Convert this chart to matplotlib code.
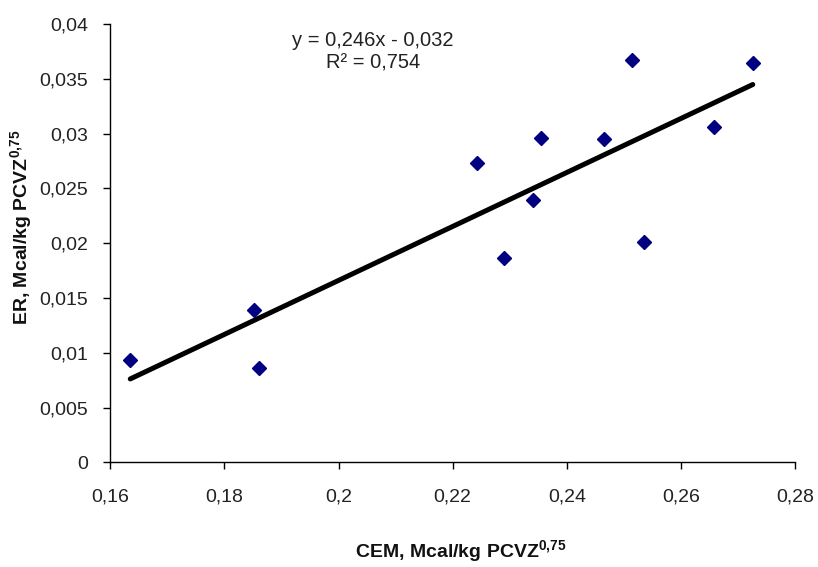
import numpy as np
import matplotlib
matplotlib.use("Agg")
import matplotlib.pyplot as plt

# Data
cem = [0.1635, 0.1851, 0.1861, 0.2243, 0.2355, 0.2340, 0.2290, 0.2465, 0.2515, 0.2535, 0.2658, 0.2726]
er = [0.00933, 0.01390, 0.00863, 0.02734, 0.02962, 0.02393, 0.01861, 0.02950, 0.03671, 0.02013, 0.03062, 0.03641]
x_ticks = [0.16, 0.18, 0.20, 0.22, 0.24, 0.26, 0.28]
x_tick_labels = ["0,16", "0,18", "0,2", "0,22", "0,24", "0,26", "0,28"]
y_ticks = [0, 0.005, 0.01, 0.015, 0.02, 0.025, 0.03, 0.035, 0.04]
y_tick_labels = ["0", "0,005", "0,01", "0,015", "0,02", "0,025", "0,03", "0,035", "0,04"]
equation_text = "y = 0,246x - 0,032"
r2_text = "R² = 0,754"
x_label = r"CEM, Mcal/kg PCVZ$^{\mathbf{0{,}75}}$"
y_label = r"ER, Mcal/kg PCVZ$^{\mathbf{0{,}75}}$"

plt.rcParams["font.family"] = ["Liberation Sans", "DejaVu Sans"]
plt.rcParams["mathtext.fontset"] = "custom"
plt.rcParams["mathtext.bf"] = "Liberation Sans:bold"
plt.rcParams["mathtext.rm"] = "Liberation Sans"

W, H = 818, 567
fig = plt.figure(figsize=(W / 100, H / 100), dpi=100)
ax = fig.add_axes([110.3 / W, 1 - 462.3 / H, (795 - 110.3) / W, (462.3 - 24) / H])

ax.plot(cem, er, linestyle="none", marker="D", markersize=7.5,
        color="#000080", markeredgecolor="#000080", zorder=3)

# trend line (least squares)
coef = np.polyfit(cem, er, 1)
xs = np.array([min(cem), max(cem)])
ax.plot(xs, np.polyval(coef, xs), color="black", linewidth=3.6,
        solid_capstyle="round", zorder=2)

ax.set_xlim(x_ticks[0], x_ticks[-1])
ax.set_ylim(y_ticks[0], y_ticks[-1])
ax.set_xticks(x_ticks)
ax.set_xticklabels(x_tick_labels)
ax.set_yticks(y_ticks)
ax.set_yticklabels(y_tick_labels)

for s in ["top", "right"]:
    ax.spines[s].set_visible(False)
for s in ["left", "bottom"]:
    ax.spines[s].set_color("black")
    ax.spines[s].set_linewidth(1.0)
ax.tick_params(axis="both", direction="out", length=5, width=1, color="black",
               labelsize=14, labelcolor="#222222")
ax.tick_params(axis="x", pad=14)
ax.tick_params(axis="y", pad=11)
ax.set_clip_on(False)

fig.text(373 / W, 1 - 40 / H, equation_text, ha="center", va="center",
         fontsize=14.5, color="#222222")
fig.text(373 / W, 1 - 63 / H, r2_text, ha="center", va="center",
         fontsize=14.5, color="#222222")

fig.text(461 / W, 1 - 552 / H, x_label, ha="center", va="center",
         fontsize=14, fontweight="bold", color="#111111")
fig.text(22 / W, 1 - 227 / H, y_label, ha="center", va="center",
         fontsize=14, fontweight="bold", color="#111111", rotation=90)

fig.savefig("out.png", dpi=100)
